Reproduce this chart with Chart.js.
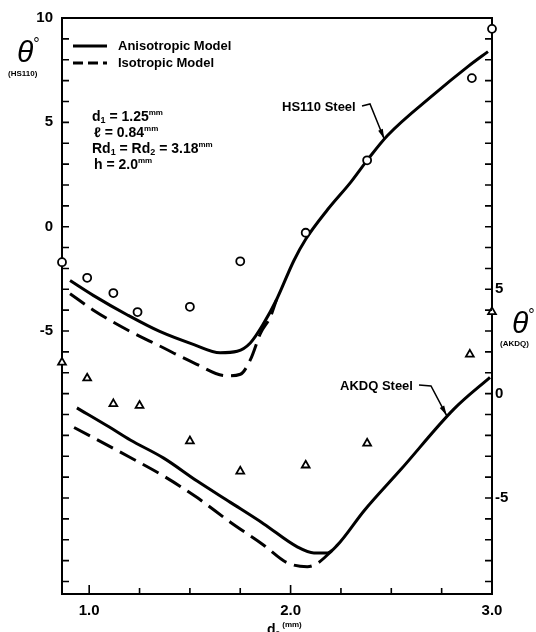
<!DOCTYPE html>
<html>
<head>
<meta charset="utf-8">
<script src="https://cdn.jsdelivr.net/npm/chart.js@4.4.1/dist/chart.umd.min.js"></script>
<style>
html, body { margin: 0; padding: 0; background: #fff; }
canvas { display: block; }
</style>
</head>
<body>
<canvas id="chart" width="536" height="632"></canvas>
<script>
// measured points, d2 in mm, theta in degrees
const hsD = [0.865, 0.99, 1.12, 1.24, 1.50, 1.75, 2.075, 2.38, 2.90, 3.0];
const hsTheta = [-1.7, -2.45, -3.18, -4.09, -3.84, -1.66, -0.29, 3.18, 7.12, 9.48];
const akD = [0.865, 0.99, 1.12, 1.25, 1.50, 1.75, 2.075, 2.38, 2.89, 3.0];
const akTheta = [1.5, 0.74, -0.49, -0.57, -2.27, -3.72, -3.43, -2.38, 1.88, 3.92];

// model curves
const hsAnisoD = [0.905, 1.02, 1.19, 1.35, 1.52, 1.65, 1.735, 1.80, 1.867, 1.93, 2.016, 2.075, 2.183, 2.30, 2.38, 2.48, 2.71, 2.88, 2.98];
const hsAnisoTheta = [-2.58, -3.29, -4.23, -5.02, -5.65, -6.04, -5.97, -5.57, -4.62, -3.5, -1.63, -0.6, 0.81, 2.15, 3.18, 4.36, 6.33, 7.67, 8.39];
const hsIsoD = [0.905, 1.021, 1.188, 1.353, 1.519, 1.685, 1.751, 1.801, 1.851, 1.90, 1.93];
const hsIsoTheta = [-3.21, -4.0, -4.94, -5.73, -6.52, -7.15, -7.07, -6.36, -5.10, -4.31, -3.5];
const akAnisoD = [0.939, 1.10, 1.204, 1.37, 1.536, 1.701, 1.867, 2.033, 2.116, 2.183, 2.232, 2.365, 2.547, 2.813, 2.99];
const akAnisoTheta = [-0.68, -1.6, -2.22, -3.09, -4.19, -5.21, -6.24, -7.34, -7.63, -7.63, -7.26, -5.61, -3.64, -0.72, 0.78];
const akIsoD = [0.925, 1.204, 1.37, 1.536, 1.701, 1.867, 1.983, 2.083, 2.133, 2.199, 2.232];
const akIsoTheta = [-1.62, -3.06, -3.95, -4.98, -6.16, -7.26, -8.10, -8.29, -8.13, -7.58, -7.26];

const xTickLabels = [1, 2, 3];
const leftTickLabels = [10, 5, 0, -5];
const rightTickLabels = [5, 0, -5];

const FONT = '"Liberation Sans", Arial, sans-serif';

function pts(xs, ys) {
	return xs.map((x, i) => ({x: x, y: ys[i]}));
}

function isInt(v) {
	return Math.abs(v - Math.round(v)) < 1e-6;
}

function steps(from, to, step) {
	const out = [];
	for (let i = 0; from + i * step <= to + 1e-9; i++) out.push({value: Math.round((from + i * step) * 1000) / 1000});
	return out;
}

function drawRuns(ctx, x, y, runs) {
	for (const r of runs) {
		ctx.font = r.font;
		ctx.fillText(r.text, x, y + (r.dy || 0));
		x += ctx.measureText(r.text).width;
	}
	return x;
}

function arrow(ctx, pts) {
	ctx.beginPath();
	ctx.moveTo(pts[0][0], pts[0][1]);
	for (let i = 1; i < pts.length; i++) ctx.lineTo(pts[i][0], pts[i][1]);
	ctx.stroke();
	const [x1, y1] = pts[pts.length - 2];
	const [x2, y2] = pts[pts.length - 1];
	const a = Math.atan2(y2 - y1, x2 - x1);
	ctx.beginPath();
	ctx.moveTo(x2, y2);
	ctx.lineTo(x2 - 10 * Math.cos(a) + 2.5 * Math.sin(a), y2 - 10 * Math.sin(a) - 2.5 * Math.cos(a));
	ctx.lineTo(x2 - 10 * Math.cos(a) - 2.5 * Math.sin(a), y2 - 10 * Math.sin(a) + 2.5 * Math.cos(a));
	ctx.closePath();
	ctx.fill();
}

const decor = {
	id: "decor",
	afterDraw(chart) {
		const {ctx, chartArea: a, scales} = chart;
		const sx = scales.x, sl = scales.y, sr = scales.y2;
		ctx.save();
		ctx.strokeStyle = "#000";
		ctx.fillStyle = "#000";

		// top frame line
		ctx.lineWidth = 2;
		ctx.beginPath();
		ctx.moveTo(a.left - 1, a.top);
		ctx.lineTo(a.right + 1, a.top);
		ctx.stroke();

		// inward tick marks
		ctx.lineWidth = 1.6;
		ctx.beginPath();
		sl.ticks.forEach(t => {
			const p = sl.getPixelForValue(t.value);
			ctx.moveTo(a.left, p);
			ctx.lineTo(a.left + 7, p);
		});
		sr.ticks.forEach(t => {
			const p = sr.getPixelForValue(t.value);
			ctx.moveTo(a.right, p);
			ctx.lineTo(a.right - 7, p);
		});
		sx.ticks.forEach(t => {
			const p = sx.getPixelForValue(t.value);
			ctx.moveTo(p, a.bottom);
			ctx.lineTo(p, a.bottom - (isInt(t.value) ? 9 : 6));
		});
		ctx.stroke();

		// legend
		ctx.lineWidth = 3;
		ctx.beginPath();
		ctx.moveTo(73, 46);
		ctx.lineTo(107, 46);
		ctx.stroke();
		ctx.setLineDash([10, 5]);
		ctx.beginPath();
		ctx.moveTo(73, 63);
		ctx.lineTo(107, 63);
		ctx.stroke();
		ctx.setLineDash([]);
		ctx.textBaseline = "middle";
		ctx.font = "bold 13px " + FONT;
		ctx.fillText("Anisotropic Model", 118, 46);
		ctx.fillText("Isotropic Model", 118, 63);

		// parameters
		ctx.textBaseline = "alphabetic";
		const m = "bold 14px " + FONT;
		const sub = "bold 9px " + FONT;
		const sup = "bold 8px " + FONT;
		drawRuns(ctx, 92, 121, [
			{text: "d", font: m}, {text: "1", font: sub, dy: 2},
			{text: " = 1.25", font: m}, {text: "mm", font: sup, dy: -6}]);
		drawRuns(ctx, 94, 137, [
			{text: "ℓ", font: m}, {text: " = 0.84", font: m}, {text: "mm", font: sup, dy: -6}]);
		drawRuns(ctx, 92, 153, [
			{text: "Rd", font: m}, {text: "1", font: sub, dy: 2},
			{text: " = Rd", font: m}, {text: "2", font: sub, dy: 2},
			{text: " = 3.18", font: m}, {text: "mm", font: sup, dy: -6}]);
		drawRuns(ctx, 94, 169, [
			{text: "h = 2.0", font: m}, {text: "mm", font: sup, dy: -6}]);

		// axis titles
		drawRuns(ctx, 17, 62, [
			{text: "θ", font: "italic 30px " + FONT}, {text: "°", font: "16px " + FONT, dy: -13}]);
		ctx.font = "bold 8px " + FONT;
		ctx.fillText("(HS110)", 8, 76);
		drawRuns(ctx, 512, 333, [
			{text: "θ", font: "italic 30px " + FONT}, {text: "°", font: "16px " + FONT, dy: -13}]);
		ctx.font = "bold 8px " + FONT;
		ctx.fillText("(AKDQ)", 500, 346);
		drawRuns(ctx, 267, 634, [
			{text: "d", font: "bold 14px " + FONT}, {text: "2", font: "bold 8px " + FONT, dy: 2},
			{text: " (mm)", font: "bold 8px " + FONT, dy: -7}]);

		// curve labels with leaders
		ctx.font = "bold 13px " + FONT;
		ctx.textBaseline = "middle";
		ctx.fillText("HS110 Steel", 282, 107);
		ctx.fillText("AKDQ Steel", 340, 386);
		ctx.lineWidth = 1.5;
		arrow(ctx, [[362, 106], [370, 104], [sx.getPixelForValue(2.465), sl.getPixelForValue(4.2)]]);
		arrow(ctx, [[419, 385], [431, 386], [sx.getPixelForValue(2.775), sr.getPixelForValue(-1.05)]]);
		ctx.restore();
	}
};

const markerStyle = {
	showLine: false,
	borderColor: "#000",
	backgroundColor: "#fff",
	pointBorderWidth: 1.8,
	clip: false
};
const curveStyle = {
	showLine: true,
	pointRadius: 0,
	borderColor: "#000",
	borderWidth: 3,
	cubicInterpolationMode: "monotone",
	fill: false
};
const tickFont = {family: FONT, size: 15, weight: "bold"};

new Chart(document.getElementById("chart"), {
	type: "scatter",
	data: {
		datasets: [
			Object.assign({label: "HS110 data", data: pts(hsD, hsTheta), yAxisID: "y",
				pointStyle: "circle", pointRadius: 4}, markerStyle),
			Object.assign({label: "AKDQ data", data: pts(akD, akTheta), yAxisID: "y2",
				pointStyle: "triangle", pointRadius: 4.5}, markerStyle),
			Object.assign({label: "HS110 anisotropic", data: pts(hsAnisoD, hsAnisoTheta), yAxisID: "y"}, curveStyle),
			Object.assign({label: "HS110 isotropic", data: pts(hsIsoD, hsIsoTheta), yAxisID: "y",
				borderDash: [18, 8]}, curveStyle),
			Object.assign({label: "AKDQ anisotropic", data: pts(akAnisoD, akAnisoTheta), yAxisID: "y2"}, curveStyle),
			Object.assign({label: "AKDQ isotropic", data: pts(akIsoD, akIsoTheta), yAxisID: "y2",
				borderDash: [18, 8]}, curveStyle)
		]
	},
	options: {
		responsive: false,
		animation: false,
		devicePixelRatio: 1,
		layout: {padding: {top: 14, left: 0, right: 0, bottom: 0}},
		plugins: {legend: {display: false}, tooltip: {enabled: false}},
		scales: {
			x: {
				type: "linear",
				min: 0.865,
				max: 3.0,
				afterFit: s => { s.height = 38; },
				afterBuildTicks: s => { s.ticks = steps(1, 3, 0.25); },
				grid: {display: false, drawTicks: false},
				border: {display: true, color: "#000", width: 2},
				ticks: {
					autoSkip: false,
					maxRotation: 0,
					padding: 8,
					color: "#000",
					font: tickFont,
					callback: v => xTickLabels.some(t => Math.abs(t - v) < 1e-6) ? v.toFixed(1) : ""
				}
			},
			y: {
				type: "linear",
				position: "left",
				min: -17.6,
				max: 10,
				afterFit: s => { s.width = 62; },
				afterBuildTicks: s => { s.ticks = steps(-17, 10, 1); },
				grid: {display: false, drawTicks: false},
				border: {display: true, color: "#000", width: 2},
				ticks: {
					autoSkip: false,
					padding: 9,
					color: "#000",
					font: tickFont,
					callback: v => leftTickLabels.some(t => Math.abs(t - v) < 1e-6) ? String(Math.round(v)) : ""
				}
			},
			y2: {
				type: "linear",
				position: "right",
				min: -9.6,
				max: 18,
				afterFit: s => { s.width = 44; },
				afterBuildTicks: s => { s.ticks = steps(-9, 18, 1); },
				grid: {display: false, drawTicks: false},
				border: {display: true, color: "#000", width: 2},
				ticks: {
					autoSkip: false,
					padding: 3,
					color: "#000",
					font: tickFont,
					callback: v => rightTickLabels.some(t => Math.abs(t - v) < 1e-6) ? String(Math.round(v)) : ""
				}
			}
		}
	},
	plugins: [decor]
});
</script>
</body>
</html>
